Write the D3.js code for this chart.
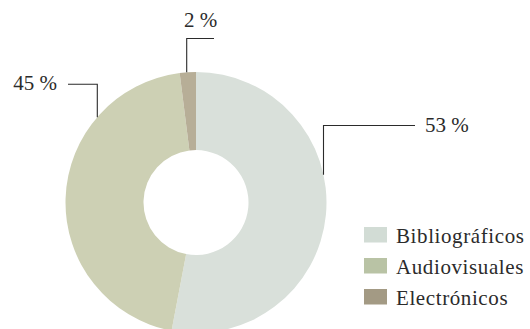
<!DOCTYPE html>
<html>
<head>
<meta charset="utf-8">
<script src="https://cdn.jsdelivr.net/npm/d3@7"></script>
<style>
  html, body { margin: 0; padding: 0; background: #ffffff; }
  svg { display: block; }
  text { font-family: "Liberation Serif", "Times New Roman", serif; fill: #2b2b2b; }
</style>
</head>
<body>
<svg id="chart" width="530" height="329"></svg>
<script>
// Distribution of resources by type (percent)
const categories = ["Bibliográficos", "Audiovisuales", "Electrónicos"];
const shares = [53, 45, 2];
const percentLabels = ["53 %", "45 %", "2 %"];
const sliceColors = ["#d9e0da", "#cdd0b4", "#b7ae97"];
const legendColors = ["#d2dcd5", "#b9c3a5", "#a39a84"];

const svg = d3.select("#chart");
const cx = 196, cy = 202.5;
const outerR = 130.5, innerR = 52.5;

const pie = d3.pie().sort(null).value(d => d.value);
const arcs = pie(categories.map((c, i) => ({ name: c, value: shares[i] })));
const arc = d3.arc().innerRadius(innerR).outerRadius(outerR);

const g = svg.append("g").attr("transform", `translate(${cx},${cy})`);
g.selectAll("path.slice")
  .data(arcs)
  .join("path")
  .attr("class", "slice")
  .attr("d", arc)
  .attr("fill", (d, i) => sliceColors[i]);

// Elbow leader lines: vertical from the ring edge, then horizontal to the label
const leaders = [
  { x: 323.5, y: 125.5, toX: 415, labelX: 425, labelY: 132, anchor: "start" },
  { x: 97.3, y: 84.3, toX: 68, labelX: 57, labelY: 90, anchor: "end" },
  { x: 186.7, y: 38.5, toX: 214, labelX: 200.5, labelY: 27, anchor: "middle" }
];

leaders.forEach((L, i) => {
  const dx = L.x - cx;
  const edgeY = cy - Math.sqrt(outerR * outerR - dx * dx);
  svg.append("path")
    .attr("d", `M${L.x},${edgeY}V${L.y}H${L.toX}`)
    .attr("fill", "none")
    .attr("stroke", "#2b2b2b")
    .attr("stroke-width", 1.1);
  svg.append("text")
    .attr("x", L.labelX)
    .attr("y", L.labelY)
    .attr("text-anchor", L.anchor)
    .attr("font-size", 21)
    .text(percentLabels[i]);
});

// Legend
const legend = svg.append("g").attr("transform", "translate(364,227)");
const rows = legend.selectAll("g")
  .data(categories)
  .join("g")
  .attr("transform", (d, i) => `translate(0,${i * 31})`);
rows.append("rect")
  .attr("width", 23)
  .attr("height", 15.5)
  .attr("fill", (d, i) => legendColors[i]);
rows.append("text")
  .attr("x", 32)
  .attr("y", 15.5)
  .attr("font-size", 21)
  .attr("letter-spacing", 0.6)
  .text(d => d);
</script>
</body>
</html>
